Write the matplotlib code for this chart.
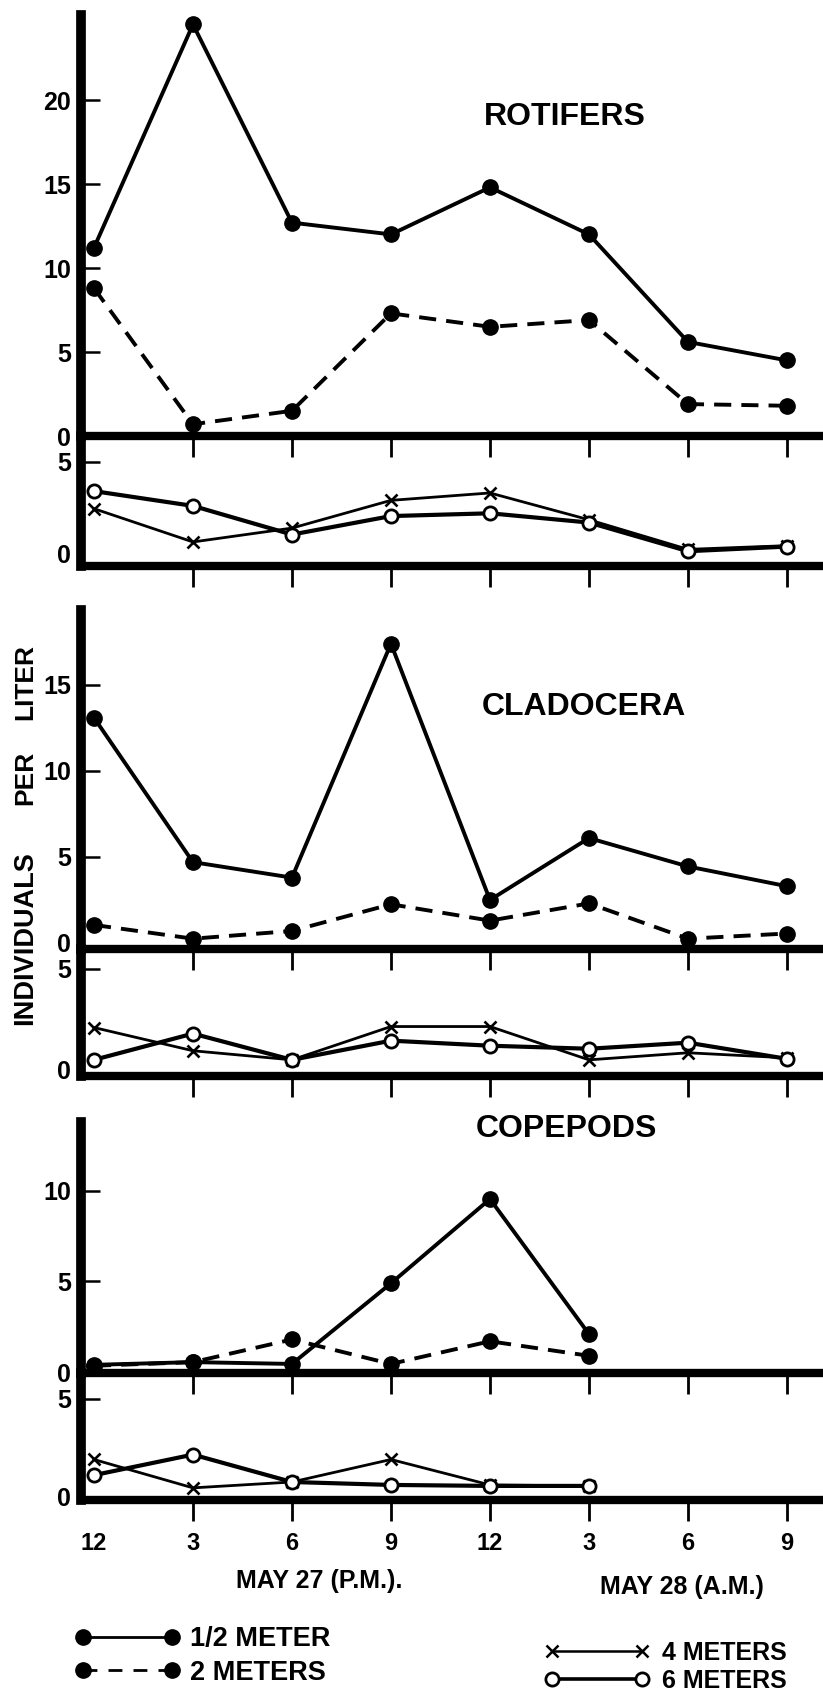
import numpy as np
import matplotlib.pyplot as plt
from matplotlib.lines import Line2D

plt.rcParams['font.family'] = ['Liberation Sans', 'DejaVu Sans']
plt.rcParams['font.weight'] = 'bold'

# sampling times, every 3 hours from noon May 27 to 9 a.m. May 28
hours = ['12', '3', '6', '9', '12', '3', '6', '9']
x_pos = np.arange(len(hours))

# individuals per liter
rot_half = [11.2, 24.5, 12.7, 12.0, 14.8, 12.0, 5.6, 4.5]
rot_two = [8.8, 0.7, 1.5, 7.3, 6.5, 6.9, 1.9, 1.8]
rot_four = [2.45, 0.65, 1.4, 2.9, 3.3, 1.85, 0.25, 0.45]
rot_six = [3.4, 2.6, 1.05, 2.05, 2.2, 1.7, 0.15, 0.4]

cla_half = [13.1, 4.7, 3.8, 17.4, 2.5, 6.1, 4.45, 3.3]
cla_two = [1.05, 0.25, 0.7, 2.25, 1.3, 2.3, 0.25, 0.55]
cla_four = [2.1, 0.95, 0.5, 2.15, 2.15, 0.5, 0.85, 0.6]
cla_six = [0.5, 1.8, 0.5, 1.45, 1.2, 1.05, 1.35, 0.55]

cop_half = [0.4, 0.55, 0.45, 4.9, 9.55, 2.1]
cop_two = [0.35, 0.55, 1.8, 0.45, 1.7, 0.9]
cop_four = [1.9, 0.45, 0.75, 1.9, 0.6, 0.55]
cop_six = [1.1, 2.15, 0.75, 0.6, 0.55, 0.55]

W, H = 823, 1694
fig = plt.figure(figsize=(W / 100, H / 100), dpi=100)


def add_ax(top, bottom):
    return fig.add_axes([81 / W, 1 - bottom / H, (W - 81) / W, (bottom - top) / H])


def style(ax, ylim, yticks, xlabels=False):
    ax.set_xlim(-0.131, 7.364)
    ax.set_ylim(*ylim)
    ax.patch.set_visible(False)
    ax.spines['top'].set_visible(False)
    ax.spines['right'].set_visible(False)
    ax.spines['left'].set_linewidth(7)
    ax.spines['bottom'].set_linewidth(6)
    ax.set_yticks(yticks)
    ax.tick_params(axis='y', direction='in', length=14, width=1.8, pad=7, labelsize=18)
    ax.tick_params(axis='x', direction='out', length=15, width=2.0, pad=8, labelsize=17)
    if xlabels:
        ax.set_xticks(x_pos)
        ax.set_xticklabels(hours)
        ax.xaxis.get_major_ticks()[0].tick1line.set_visible(False)
    else:
        ax.set_xticks(x_pos[1:])
        ax.set_xticklabels([])
    ax.yaxis.get_major_ticks()[0].tick1line.set_visible(False)


def plot_upper(ax, half, two):
    n = len(half)
    ax.plot(x_pos[:n], half, color='black', lw=2.8, marker='o', ms=11,
            clip_on=False, zorder=3)
    ax.plot(x_pos[:n], two, color='black', lw=2.8, marker='o', ms=11,
            dashes=(4.4, 2.6), clip_on=False, zorder=3)


def plot_lower(ax, four, six):
    n = len(four)
    ax.plot(x_pos[:n], four, color='black', lw=2.0, marker='x', ms=9, mew=1.9,
            clip_on=False, zorder=3)
    ax.plot(x_pos[:n], six, color='black', lw=3.0, marker='o', ms=9.5, mew=2.0,
            mfc='white', clip_on=False, zorder=4)


# rotifers
ax = add_ax(15, 436)
style(ax, (0, 25.06), [0, 5, 10, 15, 20])
plot_upper(ax, rot_half, rot_two)
ax = add_ax(436, 566)
style(ax, (-0.65, 6.38), [0, 5])
plot_lower(ax, rot_four, rot_six)

# cladocera
ax = add_ax(610, 949)
style(ax, (-0.35, 19.36), [0, 5, 10, 15])
plot_upper(ax, cla_half, cla_two)
ax = add_ax(949, 1076)
style(ax, (-0.3, 5.99), [0, 5])
plot_lower(ax, cla_four, cla_six)

# copepods
ax = add_ax(1122, 1373)
style(ax, (-0.05, 13.8), [0, 5, 10])
plot_upper(ax, cop_half, cop_two)
ax = add_ax(1373, 1500)
style(ax, (-0.17, 6.32), [0, 5], xlabels=True)
plot_lower(ax, cop_four, cop_six)


def ftext(x, y, s, **kw):
    fig.text(x / W, 1 - y / H, s, ha='center', va='center', **kw)


ftext(565, 117, 'ROTIFERS', fontsize=23)
ftext(584, 707, 'CLADOCERA', fontsize=23)
ftext(566, 1129, 'COPEPODS', fontsize=23)

ftext(25, 682, 'LITER', fontsize=19, rotation=90)
ftext(25, 778, 'PER', fontsize=19, rotation=90)
ftext(25, 938, 'INDIVIDUALS', fontsize=19.5, rotation=90)

ftext(319, 1581, 'MAY 27 (P.M.).', fontsize=18)
ftext(682, 1587, 'MAY 28 (A.M.)', fontsize=18)

# legend keys, drawn a little lighter than the plotted lines as in the original
key_half = Line2D([], [], color='black', lw=2.0, marker='o', ms=11, label='1/2 METER')
key_two = Line2D([], [], color='black', lw=2.0, marker='o', ms=11, dashes=(5, 4),
                 label='2 METERS')
key_four = Line2D([], [], color='black', lw=1.8, marker='x', ms=8, mew=1.8,
                  label='4 METERS')
key_six = Line2D([], [], color='black', lw=2.6, marker='o', ms=9.5, mew=2.0,
                 mfc='white', label='6 METERS')

fig.legend(handles=[key_half, key_two], loc='upper left',
           bbox_to_anchor=(75 / W, 1 - 1626 / H), frameon=False, fontsize=19.5,
           numpoints=2, handlelength=3.89, handletextpad=0.37, labelspacing=0.28,
           borderpad=0, borderaxespad=0)
fig.legend(handles=[key_four, key_six], loc='upper left',
           bbox_to_anchor=(544.5 / W, 1 - 1641 / H), frameon=False, fontsize=18,
           numpoints=2, handlelength=4.2, handletextpad=0.5, labelspacing=0.16,
           borderpad=0, borderaxespad=0)

fig.savefig('out.png', dpi=100)
